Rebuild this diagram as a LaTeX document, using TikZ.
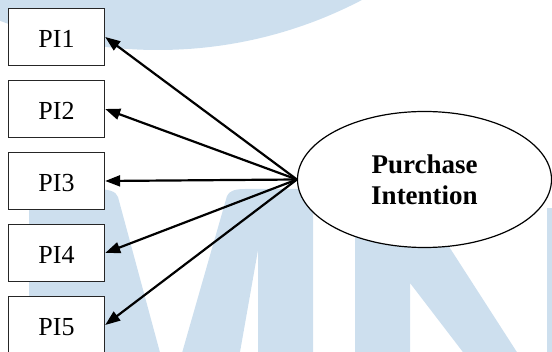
\documentclass[tikz,border=0pt]{standalone}
\usepackage{fontspec}
\setmainfont{Liberation Serif}
\usetikzlibrary{shapes.geometric,arrows.meta}
\definecolor{wmblue}{RGB}{205,223,238}
\begin{document}
\begin{tikzpicture}[x=1pt,y=-1pt,
  indicator/.style={draw=black!85, line width=1.4pt, fill=white,
    minimum width=96pt, minimum height=57pt, inner sep=0pt,
    font=\fontsize{26}{30}\selectfont, text height=21pt, text depth=0pt},
  construct/.style={ellipse, draw=black, line width=1.2pt, fill=white,
    minimum width=254pt, minimum height=136pt, inner sep=0pt, align=center,
    font=\fontsize{27}{31}\selectfont\bfseries},
  loading/.style={-{Triangle[length=15pt,width=11pt]}, line width=2.2pt}]
\useasboundingbox (0,0) rectangle (552,352);

% light background emblem
\begin{scope}
  \clip (0,0) rectangle (552,352);
  \fill[wmblue] (158,-390) circle[radius=440pt];
  % M
  \fill[wmblue] (29,360) -- (29,212) .. controls (29,196) and (60,189) .. (95,189)
    .. controls (108,189) and (116,191) .. (118,197) -- (162,360) -- cycle;
  \fill[wmblue] (180,360) -- (227,196) .. controls (229,191) and (235,189) .. (245,189)
    -- (300,189) .. controls (310,189) and (313,193) .. (313,200) -- (313,360)
    -- (258,360) -- (258,250) -- (238.6,360) -- cycle;
  % N
  \fill[wmblue] (355,360) -- (355,200) -- (419,200) -- (522,360) -- (469,360)
    -- (410,283) -- (410,360) -- cycle;
  \fill[wmblue] (547,208) rectangle (560,360);
\end{scope}

% indicators
\node[indicator] (pi1) at (56.5,37)  {PI1};
\node[indicator] (pi2) at (56.5,109) {PI2};
\node[indicator] (pi3) at (56.5,181) {PI3};
\node[indicator] (pi4) at (56.5,253) {PI4};
\node[indicator] (pi5) at (56.5,325) {PI5};

% latent construct
\node[construct] (pi) at (424.5,179.5) {Purchase\\Intention};

% loadings
\foreach \k in {1,...,5}
  \draw[loading] (pi.west) -- (pi\k.east);
\end{tikzpicture}
\end{document}
